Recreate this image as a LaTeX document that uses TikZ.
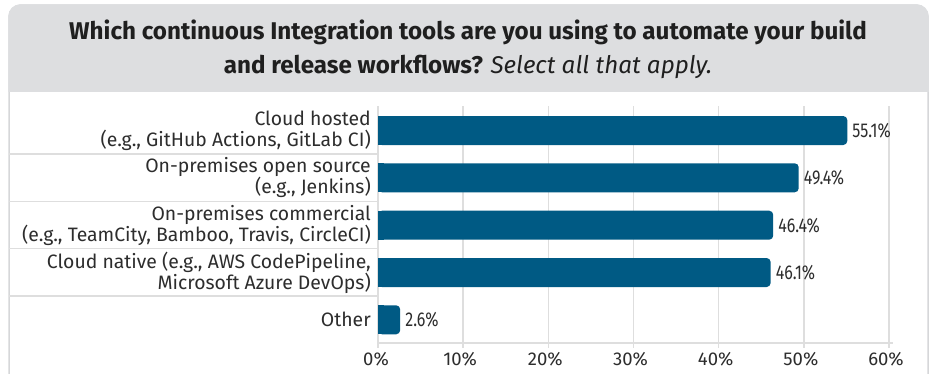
\documentclass[tikz,border=0pt]{standalone}
\usepackage{fontspec}
\setmainfont{Fira Sans}
\newfontfamily\condfont[FakeStretch=0.8]{Fira Sans}
\definecolor{barblue}{RGB}{0,90,132}
\definecolor{hdrgrey}{RGB}{221,222,224}
\definecolor{gridgrey}{RGB}{222,222,222}
\definecolor{txtgrey}{RGB}{45,45,45}
\definecolor{borderg}{RGB}{214,215,217}
\tikzset{
  gridline/.style={draw=gridgrey, line width=1.4pt},
  titleline/.style={anchor=base, text=black!88, inner sep=0pt,
    font=\bfseries\fontsize{24.2}{30}\selectfont},
  catlabel/.style={anchor=east, align=right, text=txtgrey, inner sep=0pt,
    font=\fontsize{19.4}{21}\selectfont},
  vallabel/.style={anchor=west, text=txtgrey, inner sep=0pt,
    font=\condfont\fontsize{20}{22}\selectfont},
  ticklabel/.style={anchor=center, text=txtgrey, inner sep=0pt,
    font=\fontsize{18.5}{20}\selectfont},
  barfill/.style={fill=barblue},
}
\newcommand{\pct}{8.5167}
\newcommand{\axx}{378}
\newcommand{\chartbar}[4]{% center y, value, label name, text
  \fill[barfill, rounded corners=4pt] (\axx,#1-14.5) rectangle ({\axx+#2*\pct},#1+14.5);
  \fill[barfill] (\axx,#1-14.5) rectangle (\axx+6,#1+14.5);
  \node[vallabel] (#3) at ({\axx+#2*\pct+5},#1) {#4};
}
\begin{document}
\begin{tikzpicture}[x=1pt,y=-1pt]
\useasboundingbox (0,0) rectangle (934,373);
\begin{scope}
  \clip (0,0) rectangle (934,373);
  \draw[borderg, fill=white, line width=1.5pt, rounded corners=12pt] (9,5) rectangle (928,420);
  \begin{scope}
    \clip (0,0) rectangle (934,91);
    \fill[hdrgrey, rounded corners=12pt] (8.25,4.25) rectangle (928.75,140);
  \end{scope}
\end{scope}
% title
\node[titleline] (title1) at (468,39) {Which continuous Integration tools are you using to automate your build};
\node[titleline] (title2) at (468,73) {and release workflows? {\mdseries\itshape Select all that apply.}};
% grid
\foreach \i in {1,...,6} {
  \draw[gridline] ({\axx+10*\i*\pct},106) -- ({\axx+10*\i*\pct},348);
}
\draw[gridline] (\axx,106) -- (\axx,348);
\draw[gridline] (\axx,343) -- (893,343);
\foreach \y in {154,201.3,248.7,296} {
  \draw[gridline] (9,\y) -- (\axx,\y);
}
% tick labels
\node[ticklabel] (t0) at (\axx-2,359) {0\%};
\foreach \i in {1,...,6} {
  \node[ticklabel] (t\i) at ({\axx+10*\i*\pct-3},359) {\i0\%};
}
% bars
\chartbar{130.5}{55.1}{v1}{55.1\%}
\chartbar{177.8}{49.4}{v2}{49.4\%}
\chartbar{225.2}{46.4}{v3}{46.4\%}
\chartbar{272.5}{46.1}{v4}{46.1\%}
\chartbar{319.8}{2.6}{v5}{2.6\%}
% category labels
\node[catlabel] (c1) at (371,130.5) {Cloud hosted\\(e.g., GitHub Actions, GitLab CI)};
\node[catlabel] (c2) at (371,177.8) {On-premises open source\\(e.g., Jenkins)};
\node[catlabel] (c3) at (371,225.2) {On-premises commercial\\(e.g., TeamCity, Bamboo, Travis, CircleCI)};
\node[catlabel] (c4) at (371,272.5) {Cloud native (e.g., AWS CodePipeline,\\Microsoft Azure DevOps)};
\node[catlabel] (c5) at (371,319.8) {Other};
\end{tikzpicture}
\end{document}
